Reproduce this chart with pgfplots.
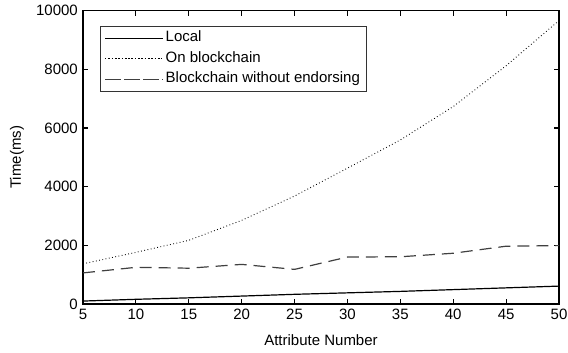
\documentclass[border=0pt]{standalone}
\usepackage{pgfplots}
\pgfplotsset{compat=1.18}
\usepackage{fontspec}
\setmainfont{Liberation Sans}
\begin{document}
\fontsize{15}{17}\selectfont
\begin{tikzpicture}
\begin{axis}[
  width=476pt, height=293.4pt, scale only axis,
  xmin=5, xmax=50, ymin=0, ymax=10000,
  xtick={5,10,...,50}, ytick={0,2000,...,10000},
  /pgf/number format/assume math mode=true,
  scaled y ticks=false,
  yticklabel style={/pgf/number format/1000 sep={}},
  tick align=inside, major tick length=5pt,
  axis line style={line width=1.4pt},
  every tick/.style={black, line width=1.2pt},
  tick label style={font=\fontsize{15}{17}\selectfont},
  xlabel={Attribute Number}, ylabel={Time(ms)},
  every axis x label/.style={at={(rel axis cs:0.5,0)}, yshift=-36pt, anchor=center, font=\fontsize{15}{17}\selectfont},
  every axis y label/.style={at={(rel axis cs:0,0.5)}, xshift=-66pt, rotate=90, anchor=center, font=\fontsize{15}{17}\selectfont},
  legend image code/.code={\path (-4pt,0pt) -- (54pt,0pt); \draw[#1] (0pt,0pt) -- (50pt,0pt);},
  legend style={at={(0.036,0.947)}, anchor=north west, draw=black!80, line width=0.7pt,
    font=\fontsize{15}{17}\selectfont, inner xsep=4pt, inner ysep=3pt, row sep=3pt,
    nodes={inner sep=2pt, text height=10.5pt, text depth=3pt},
    cells={anchor=west}},
  legend cell align=left,
]
\addplot[black, line width=1.2pt] coordinates {(5,100) (10,160) (15,210) (20,270) (25,330) (30,380) (35,430) (40,490) (45,550) (50,610)};
\addlegendentry{Local}
\addplot[black, line width=0.9pt, dash pattern=on 0.8pt off 2.5pt] coordinates {(5,1370) (10,1760) (15,2170) (20,2850) (25,3680) (30,4630) (35,5590) (40,6730) (45,8120) (50,9660)};
\addlegendentry{On blockchain}
\addplot[black!75, line width=1.2pt, dash pattern=on 12pt off 7pt] coordinates {(5,1060) (10,1250) (15,1220) (20,1350) (25,1180) (30,1600) (35,1610) (40,1730) (45,1970) (50,1990)};
\addlegendentry{Blockchain without endorsing}
\end{axis}
\pgfresetboundingbox
\useasboundingbox ([xshift=-83pt,yshift=-48pt]current axis.south west) rectangle ([xshift=9pt,yshift=10.6pt]current axis.north east);
\end{tikzpicture}
\end{document}
